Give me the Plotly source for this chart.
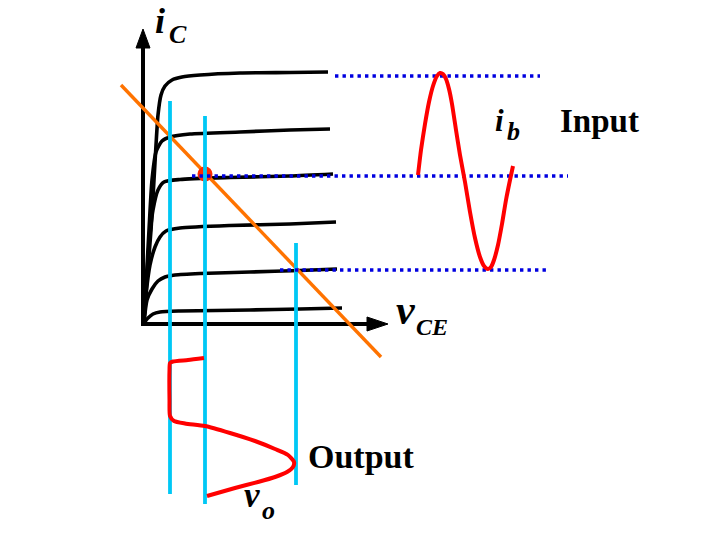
import plotly.graph_objects as go

W, H = 725, 548

# ---- data (diagram coordinates, pixel space) ----
axis_y_x = [143, 143]
axis_y_y = [326, 46]
axis_x_x = [141, 370]
axis_x_y = [324, 324]
arrow_up_x = [136, 143, 150, 136]
arrow_up_y = [48, 29, 48, 48]
arrow_right_x = [367, 388, 367, 367]
arrow_right_y = [317, 324, 331, 317]

curve1_x = [144, 147, 151, 154, 156, 158, 161, 165, 172, 182, 200, 240, 290, 328]
curve1_y = [318, 280, 230, 180, 145, 115, 95, 86, 80, 77, 75, 73, 72.5, 72]
curve2_x = [144, 146, 149, 152, 156, 162, 170, 190, 240, 290, 330]
curve2_y = [318, 285, 230, 180, 152, 141, 137, 134, 132, 130, 129]
curve3_x = [144, 146, 149, 153, 158, 164, 180, 230, 290, 333]
curve3_y = [320, 290, 245, 210, 190, 182, 179.5, 177.5, 176, 174]
curve4_x = [144, 146, 150, 155, 160, 166, 180, 230, 290, 336]
curve4_y = [322, 295, 265, 247, 237, 231, 228, 225.5, 224, 222]
curve5_x = [144, 147, 152, 158, 165, 175, 200, 250, 300, 337]
curve5_y = [322, 300, 289, 281, 277, 275, 273.5, 272, 270.5, 269]
curve6_x = [144, 148, 153, 160, 180, 250, 300, 342]
curve6_y = [323, 318, 314, 312, 311, 310, 309, 308]

load_x = [121, 381]
load_y = [85, 357]

q_x = [205]
q_y = [174]

cyan1_x = [170, 170]
cyan1_y = [101, 494]
cyan2_x = [205, 205]
cyan2_y = [116, 504]
cyan3_x = [296, 296]
cyan3_y = [243, 485]

dot_top_x = [335, 540]
dot_top_y = [76, 76]
dot_mid_x = [192, 568]
dot_mid_y = [176, 176]
dot_bot_x = [280, 546]
dot_bot_y = [270, 270]

ib_x = [418, 421, 425, 429, 433, 437, 440, 443, 446, 449, 452, 456, 460, 465, 470, 475, 480, 484, 488, 491, 494, 498, 502, 506, 510, 513]
ib_y = [175, 150, 124, 102, 86, 76, 73, 74, 79, 89, 104, 130, 155, 182, 212, 238, 257, 266, 269, 267, 260, 245, 224, 200, 180, 166]

vo_x = [204, 188, 173, 170, 169.5, 169.5, 170, 174, 185, 205, 230, 255, 275, 288, 294, 293, 287, 275, 258, 235, 207]
vo_y = [358, 360, 361.5, 363, 370, 400, 416, 421, 423.5, 426, 433, 441, 449, 455, 462, 467, 472, 477, 482, 488, 496]

fig = go.Figure()

def line(x, y, color, width, dash=None):
    fig.add_trace(go.Scatter(x=x, y=y, mode="lines",
                             line=dict(color=color, width=width, dash=dash, shape="spline", smoothing=0.6),
                             hoverinfo="skip", showlegend=False))

def poly(x, y, color):
    fig.add_trace(go.Scatter(x=x, y=y, mode="lines", fill="toself", fillcolor=color,
                             line=dict(color=color, width=1), hoverinfo="skip", showlegend=False))

# axes
line(axis_y_x, axis_y_y, "black", 4)
line(axis_x_x, axis_x_y, "black", 4)
poly(arrow_up_x, arrow_up_y, "black")
poly(arrow_right_x, arrow_right_y, "black")

# characteristic curves
for cx, cy in [(curve1_x, curve1_y), (curve2_x, curve2_y), (curve3_x, curve3_y),
               (curve4_x, curve4_y), (curve5_x, curve5_y), (curve6_x, curve6_y)]:
    line(cx, cy, "black", 3.6)

# load line
line(load_x, load_y, "#FF7300", 3.4)

# Q point
fig.add_trace(go.Scatter(x=q_x, y=q_y, mode="markers",
                         marker=dict(color="#FF2A00", size=15, line=dict(width=0)),
                         hoverinfo="skip", showlegend=False))

# cyan lines
for cx, cy in [(cyan1_x, cyan1_y), (cyan2_x, cyan2_y), (cyan3_x, cyan3_y)]:
    line(cx, cy, "#00C8F5", 3.8)

# blue dotted lines
for dx, dy in [(dot_top_x, dot_top_y), (dot_mid_x, dot_mid_y), (dot_bot_x, dot_bot_y)]:
    line(dx, dy, "#0000E0", 3.4, dash="3.4px,4.1px")

# waveforms
line(ib_x, ib_y, "#FF0000", 4)
line(vo_x, vo_y, "#FF0000", 4)

SERIF = "Liberation Serif, Times New Roman, serif"

def label(x, y, text, size, italic=True):
    t = f"<b><i>{text}</i></b>" if italic else f"<b>{text}</b>"
    fig.add_annotation(x=x, y=y, text=t, showarrow=False, xanchor="left", yanchor="middle",
                       font=dict(family=SERIF, size=size, color="black"),
                       xref="x", yref="y", borderpad=0)

label(154, 21, "i", 36)
label(168, 34, "C", 26)
label(395, 310, "v", 42)
label(415, 327, "CE", 24)
label(494, 120, "i", 31)
label(506, 131, "b", 26)
label(559, 120.5, "Input", 33, italic=False)
label(307, 456, "Output", 34, italic=False)
label(243, 495, "v", 35)
label(261, 510, "o", 26)

fig.update_layout(
    width=W, height=H,
    margin=dict(l=0, r=0, t=0, b=0),
    paper_bgcolor="white", plot_bgcolor="white",
    xaxis=dict(range=[0, W], visible=False, fixedrange=True),
    yaxis=dict(range=[H, 0], visible=False, fixedrange=True),
    showlegend=False,
)

fig.write_html("out.html", config={"displayModeBar": False},
               post_script="document.body.style.margin='0';document.body.style.padding='0';")
